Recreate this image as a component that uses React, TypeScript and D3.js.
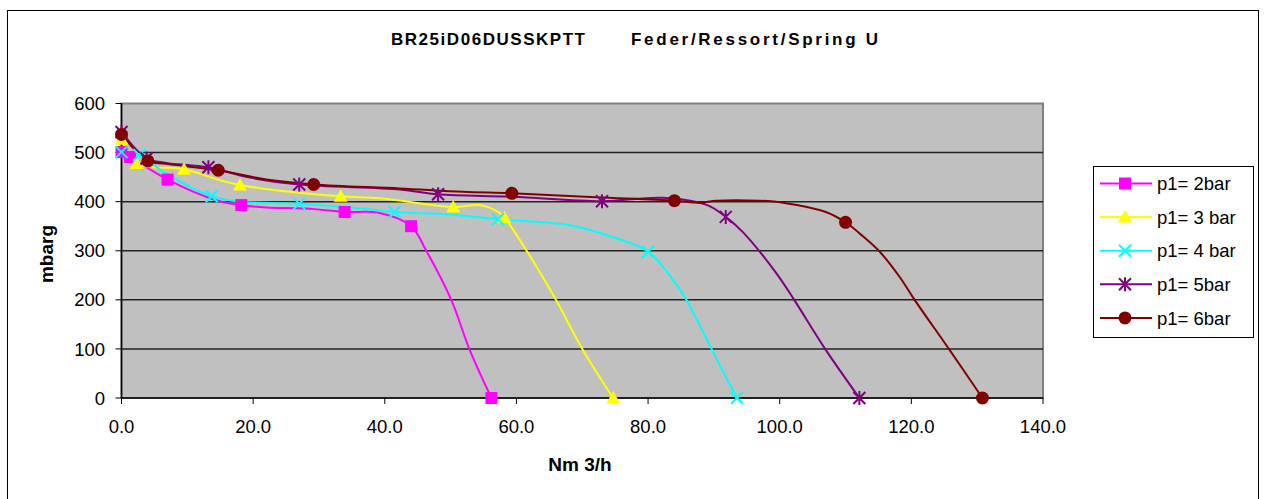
import React from 'react';
import * as d3 from 'd3';

// x = Nm3/h, y = mbarg
const p2Line = [[0, 501], [1.3, 491], [7, 445], [14.4, 403], [18.2, 393], [22, 388], [28, 386], [33.9, 379], [39.2, 377], [44, 350], [46.3, 300], [50.1, 200], [52.9, 98], [56.2, 0]];
const p2Marks = [[0, 501], [1.3, 491], [7, 445], [18.2, 393], [33.9, 379], [44, 350], [56.2, 0]];

const p3Line = [[0, 527], [2.3, 478], [9.5, 466], [15.4, 442], [18, 434], [21.3, 427], [33.3, 411], [39.3, 407], [50.4, 389], [54.4, 393], [57.2, 379], [58.2, 367], [61.5, 301], [66, 200], [70.1, 98], [74.7, 0]];
const p3Marks = [[0, 527], [2.3, 478], [9.5, 466], [18, 434], [33.3, 411], [50.4, 389], [58.2, 367], [74.7, 0]];

const p4Line = [[0, 501], [2.7, 495], [6.8, 457], [13.7, 411], [18, 400], [27, 396], [34.7, 388], [41.5, 379], [50, 374], [57.2, 364], [68.1, 352], [74.6, 328], [80, 298], [84, 237], [85.8, 200], [90.9, 67], [93.5, 0]];
const p4Marks = [[0, 501], [2.7, 495], [13.7, 411], [27, 396], [41.5, 379], [57.2, 364], [80, 298], [93.5, 0]];

const p5Line = [[0, 542], [3.8, 488], [6.8, 479], [13.2, 470], [19.5, 449], [27, 435], [42.3, 425], [48.1, 415], [59.5, 410], [73, 401], [82.2, 408], [89, 393], [91.8, 369], [94.4, 338], [99.5, 254], [102.2, 200], [107, 98], [112.1, 0]];
const p5Marks = [[0, 542], [3.8, 488], [13.2, 470], [27, 435], [48.1, 415], [73, 401], [91.8, 369], [112.1, 0]];

const p6Line = [[0, 537], [4, 483], [6.8, 477], [14.7, 464], [22, 445], [29.2, 435], [42.3, 427], [51.9, 420], [59.3, 417], [72.1, 409], [84, 402], [87.8, 398], [90.4, 402], [96.9, 402], [100.5, 398], [107, 379], [110, 358], [112.6, 330], [115.2, 298], [118.2, 247], [120.5, 200], [125.8, 98], [130.8, 0]];
const p6Marks = [[0, 537], [4, 483], [14.7, 464], [29.2, 435], [59.3, 417], [84, 402], [110, 358], [130.8, 0]];

const seriesNames = ['p1= 2bar', 'p1= 3 bar', 'p1= 4 bar', 'p1= 5bar', 'p1= 6bar'];
const seriesColors = ['#FF00FF', '#FFFF00', '#00FFFF', '#800080', '#800000'];
const seriesShapes = ['square', 'triangle', 'x', 'star', 'circle'];
const seriesLines = [p2Line, p3Line, p4Line, p5Line, p6Line];
const seriesMarks = [p2Marks, p3Marks, p4Marks, p5Marks, p6Marks];

const xTicks = [0, 20, 40, 60, 80, 100, 120, 140];
const yTicks = [0, 100, 200, 300, 400, 500, 600];

const FONT = 'Liberation Sans, Arial, sans-serif';
const PLOT = { left: 121.5, right: 1043, top: 103.5, bottom: 398 };

const Marker = ({ shape, color, x, y }) => {
  if (shape === 'square') return <rect x={x - 6} y={y - 6} width={12} height={12} fill={color} />;
  if (shape === 'triangle') return <path d={`M${x},${y - 7}L${x + 7},${y + 5.5}L${x - 7},${y + 5.5}Z`} fill={color} />;
  if (shape === 'circle') return <circle cx={x} cy={y} r={6.5} fill={color} />;
  if (shape === 'x')
    return (
      <path d={`M${x - 6},${y - 6}L${x + 6},${y + 6}M${x - 6},${y + 6}L${x + 6},${y - 6}`} stroke={color} strokeWidth={2} />
    );
  return (
    <path
      d={`M${x - 6},${y - 6}L${x + 6},${y + 6}M${x - 6},${y + 6}L${x + 6},${y - 6}M${x},${y - 7}L${x},${y + 7}`}
      stroke={color}
      strokeWidth={2}
    />
  );
};

const App = () => {
  const width = 1266;
  const height = 499;

  const xScale = d3.scaleLinear().domain([0, 140]).range([PLOT.left, PLOT.right]);
  const yScale = d3.scaleLinear().domain([0, 600]).range([PLOT.bottom, PLOT.top]);

  const line = d3
    .line()
    .x((d) => xScale(d[0]))
    .y((d) => yScale(d[1]))
    .curve(d3.curveCatmullRom.alpha(0.5));

  const legendX = 1093;
  const legendY = 166;

  return (
    <svg width={width} height={height} style={{ position: 'absolute', left: 0, top: 0 }} fontFamily={FONT}>
      <rect x={0} y={0} width={width} height={height} fill="#fff" />
      <rect x={7.5} y={10.5} width={1251} height={500} fill="#fff" stroke="#000" strokeWidth={1} />

      {/* title */}
      <text x={391} y={45} fontSize={17} fontWeight="bold" textLength={194} lengthAdjust="spacing">
        BR25iD06DUSSKPTT
      </text>
      <text x={631} y={45} fontSize={17} fontWeight="bold" textLength={247} lengthAdjust="spacing">
        Feder/Ressort/Spring U
      </text>

      {/* plot area */}
      <rect x={PLOT.left} y={PLOT.top} width={PLOT.right - PLOT.left} height={PLOT.bottom - PLOT.top} fill="#C0C0C0" stroke="#808080" strokeWidth={2} />
      {yTicks.slice(1, -1).map((t) => (
        <line key={t} x1={PLOT.left} x2={PLOT.right} y1={yScale(t)} y2={yScale(t)} stroke="#222" strokeWidth={1.5} />
      ))}

      {/* axes */}
      <line x1={PLOT.left} x2={PLOT.left} y1={PLOT.top} y2={PLOT.bottom} stroke="#000" strokeWidth={1.5} />
      <line x1={PLOT.left} x2={PLOT.right} y1={PLOT.bottom} y2={PLOT.bottom} stroke="#000" strokeWidth={1.5} />
      {yTicks.map((t) => (
        <g key={t}>
          <line x1={PLOT.left - 6} x2={PLOT.left} y1={yScale(t)} y2={yScale(t)} stroke="#000" strokeWidth={1} />
          <text x={105} y={yScale(t)} dy="0.36em" textAnchor="end" fontSize={18.5}>
            {t}
          </text>
        </g>
      ))}
      {xTicks.map((t) => (
        <g key={t}>
          <line x1={xScale(t)} x2={xScale(t)} y1={PLOT.bottom} y2={PLOT.bottom + 6} stroke="#000" strokeWidth={1} />
          <text x={xScale(t)} y={433} textAnchor="middle" fontSize={18.5}>
            {t.toFixed(1)}
          </text>
        </g>
      ))}

      <text x={580} y={471} textAnchor="middle" fontSize={19} fontWeight="bold">
        Nm 3/h
      </text>
      <text transform="translate(53,254) rotate(-90)" textAnchor="middle" fontSize={19} fontWeight="bold">
        mbarg
      </text>

      {/* series */}
      {seriesLines.map((pts, i) => (
        <path key={i} d={line(pts)} fill="none" stroke={seriesColors[i]} strokeWidth={2} />
      ))}
      {seriesMarks.map((pts, i) =>
        pts.map((p, j) => <Marker key={`${i}-${j}`} shape={seriesShapes[i]} color={seriesColors[i]} x={xScale(p[0])} y={yScale(p[1])} />)
      )}

      {/* legend */}
      <rect x={legendX + 0.5} y={legendY + 0.5} width={160} height={171} fill="#fff" stroke="#000" strokeWidth={1} />
      {seriesNames.map((name, i) => {
        const cy = legendY + 17.5 + i * 33.6;
        return (
          <g key={name}>
            <line x1={1100} x2={1152} y1={cy} y2={cy} stroke={seriesColors[i]} strokeWidth={2} />
            <Marker shape={seriesShapes[i]} color={seriesColors[i]} x={1125} y={cy} />
            <text x={1157} y={cy} dy="0.36em" fontSize={18.5}>
              {name}
            </text>
          </g>
        );
      })}
    </svg>
  );
};

export default App;
